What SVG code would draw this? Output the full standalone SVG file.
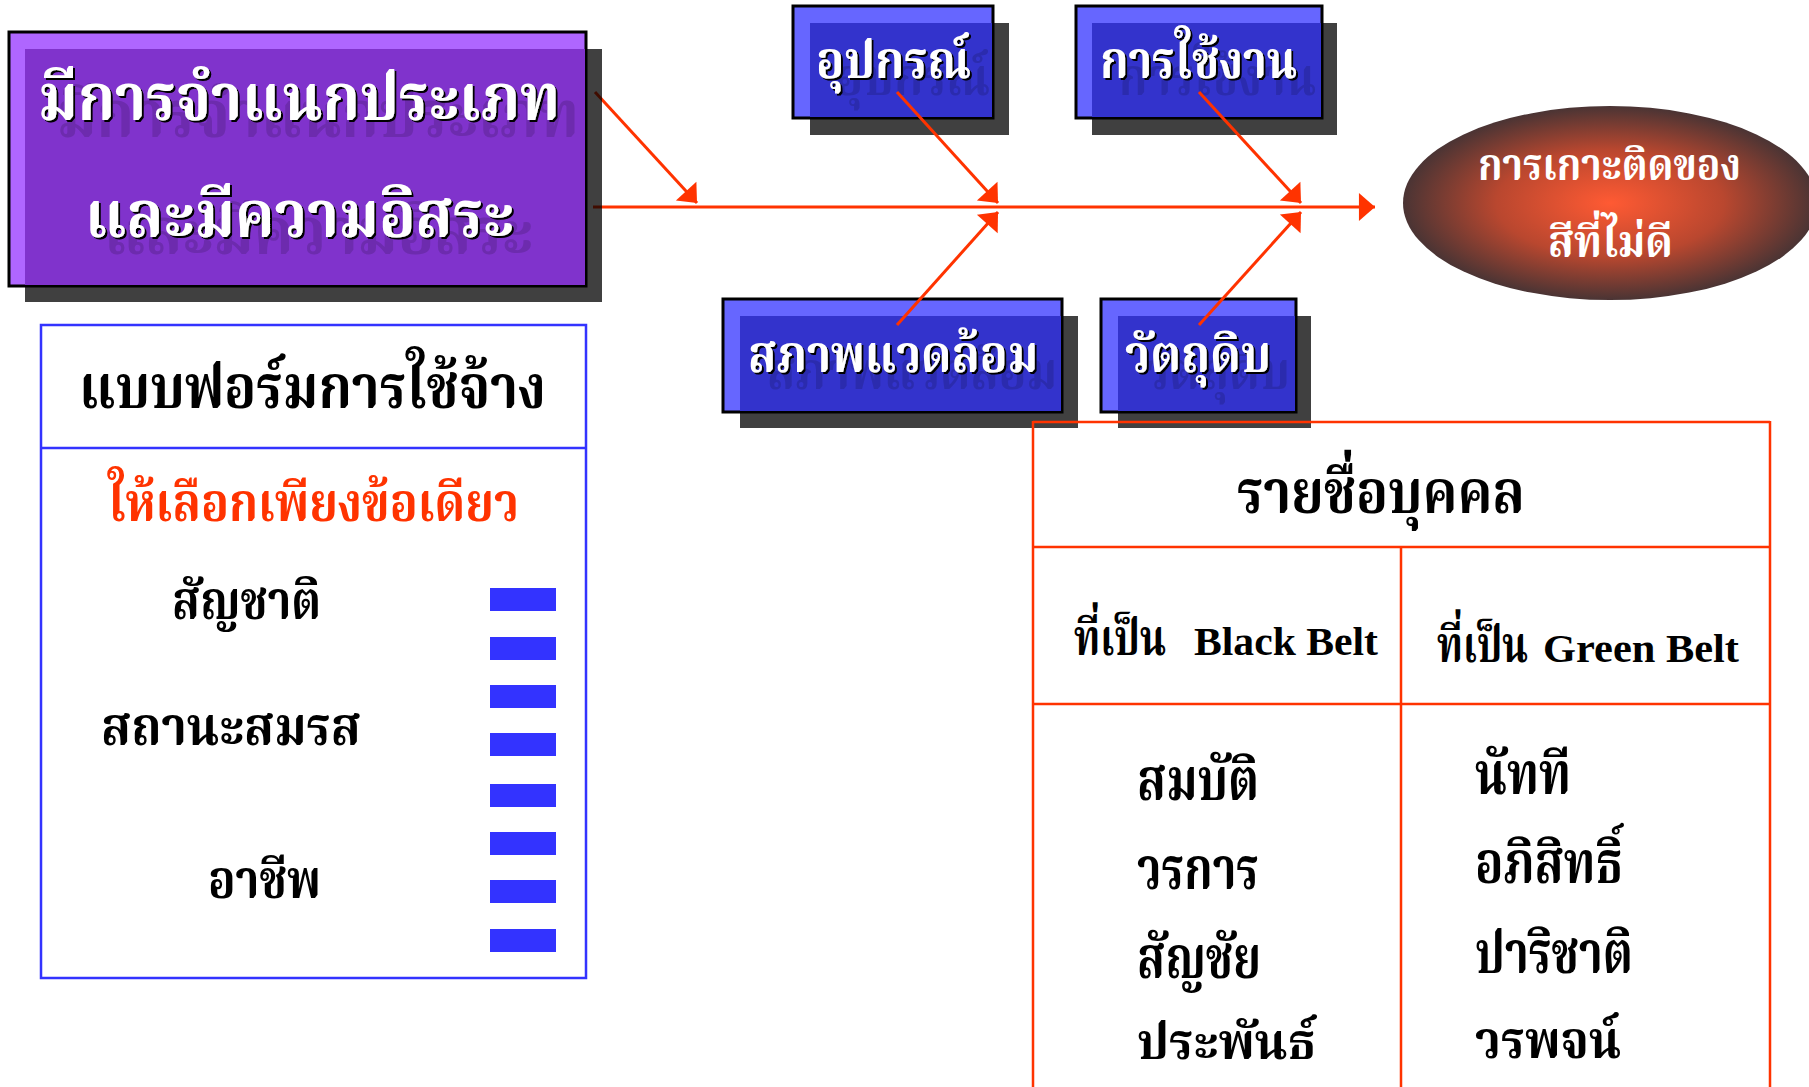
<svg xmlns="http://www.w3.org/2000/svg" width="1809" height="1087" viewBox="0 0 1809 1087">
<defs>
<style>
.th{font-family:'Angsana New','Noto Serif Thai','Noto Sans Thai','Norasi','Loma','Garuda','Noto Sans',sans-serif}
.wt{fill:#fff;font-weight:bold;filter:url(#ts)}
.bk{fill:#000;font-weight:bold}
.conn{stroke:#FF3300;stroke-width:3;fill:none}
.shadow{fill:#000;fill-opacity:0.75}
.pbox{fill:#AF66FF;stroke:#000;stroke-width:3}
.pin{fill:#8033CC}
.bbox{fill:#6666FF;stroke:#000;stroke-width:3}
.bin{fill:#3333CC}
.bar{fill:#3333FF}
.tbl{stroke:#FF3300;stroke-width:2.5;fill:none}
.lat{font-family:'Liberation Serif','Times New Roman',serif;font-weight:bold}
</style>
<filter id="ts" x="-10%" y="-30%" width="130%" height="180%">
<feOffset in="SourceAlpha" dx="19" dy="17" result="g0"/>
<feFlood flood-color="#000" flood-opacity="0.15"/>
<feComposite in2="g0" operator="in" result="ghost"/>
<feOffset in="SourceAlpha" dx="2" dy="2" result="s0"/>
<feFlood flood-color="#000"/>
<feComposite in2="s0" operator="in" result="sh"/>
<feMerge><feMergeNode in="ghost"/><feMergeNode in="sh"/><feMergeNode in="SourceGraphic"/></feMerge>
</filter>
<radialGradient id="eg" cx="0.5" cy="0.5" r="0.5">
<stop offset="0" stop-color="#FF5A33"/>
<stop offset="0.55" stop-color="#B9472F"/>
<stop offset="1" stop-color="#4A3434"/>
</radialGradient>
<marker id="ah" markerUnits="userSpaceOnUse" markerWidth="20" markerHeight="30" viewBox="-16 -14 18 28" refX="0" refY="0" orient="auto">
<path d="M0,0 L-15,-13 L-15,13 Z" fill="#FF3300"/>
</marker>
</defs>

<g id="node-equipment">
<rect class="shadow" x="810" y="23" width="199" height="112"/>
<rect class="bbox" x="793" y="6" width="200" height="112"/>
<rect class="bin" x="810" y="23" width="182" height="94"/>
<text class="th wt" x="816" y="78" font-size="52" textLength="155" lengthAdjust="spacingAndGlyphs">อุปกรณ์</text>
</g>
<g id="node-usage">
<rect class="shadow" x="1092" y="23" width="245" height="112"/>
<rect class="bbox" x="1076" y="6" width="246" height="112"/>
<rect class="bin" x="1092" y="23" width="229" height="94"/>
<text class="th wt" x="1100" y="78" font-size="52" textLength="197" lengthAdjust="spacingAndGlyphs">การใช้งาน</text>
</g>
<g id="node-environment">
<rect class="shadow" x="740" y="316" width="338" height="112"/>
<rect class="bbox" x="723" y="299" width="339" height="113"/>
<rect class="bin" x="740" y="316" width="321" height="95"/>
<text class="th wt" x="748" y="372" font-size="52" textLength="290" lengthAdjust="spacingAndGlyphs">สภาพแวดล้อม</text>
</g>
<g id="node-material">
<rect class="shadow" x="1118" y="316" width="193" height="112"/>
<rect class="bbox" x="1101" y="299" width="195" height="113"/>
<rect class="bin" x="1118" y="316" width="177" height="95"/>
<text class="th wt" x="1125" y="372" font-size="52" textLength="146" lengthAdjust="spacingAndGlyphs">วัตถุดิบ</text>
</g>

<g id="connectors">
<line class="conn" x1="593" y1="207" x2="1375" y2="207" marker-end="url(#ah)"/>
<line class="conn" x1="595" y1="92" x2="697" y2="203" marker-end="url(#ah)"/>
<line class="conn" x1="897" y1="92" x2="998" y2="203" marker-end="url(#ah)"/>
<line class="conn" x1="897" y1="325" x2="998" y2="212" marker-end="url(#ah)"/>
<line class="conn" x1="1199" y1="92" x2="1301" y2="203" marker-end="url(#ah)"/>
<line class="conn" x1="1199" y1="325" x2="1301" y2="212" marker-end="url(#ah)"/>
</g>

<g id="node-classification">
<rect class="shadow" x="25" y="49" width="577" height="253"/>
<rect class="pbox" x="9" y="32" width="577" height="254"/>
<rect class="pin" x="25" y="49" width="560" height="236"/>
<text class="th wt" x="38" y="120" font-size="66" textLength="522" lengthAdjust="spacingAndGlyphs">มีการจำแนกประเภท</text>
<text class="th wt" x="85" y="237" font-size="66" textLength="429" lengthAdjust="spacingAndGlyphs">และมีความอิสระ</text>
</g>

<g id="node-effect">
<ellipse cx="1610" cy="203" rx="207" ry="97" fill="url(#eg)"/>
<text class="th" x="1478" y="180" font-size="44" fill="#fff" font-weight="bold" textLength="263" lengthAdjust="spacingAndGlyphs">การเกาะติดของ</text>
<text class="th" x="1548" y="257" font-size="44" fill="#fff" font-weight="bold" textLength="125" lengthAdjust="spacingAndGlyphs">สีที่ไม่ดี</text>
</g>

<g id="node-form">
<rect x="41" y="325" width="545" height="653" fill="none" stroke="#3333FF" stroke-width="2.5"/>
<line x1="41" y1="448" x2="586" y2="448" stroke="#3333FF" stroke-width="2.5"/>
<text class="th bk" x="79" y="408" font-size="60" textLength="467" lengthAdjust="spacingAndGlyphs">แบบฟอร์มการใช้จ้าง</text>
<text class="th" x="108" y="521" font-size="54" fill="#FF3300" font-weight="bold" textLength="411" lengthAdjust="spacingAndGlyphs">ให้เลือกเพียงข้อเดียว</text>
<text class="th bk" x="172" y="619" font-size="54" textLength="149" lengthAdjust="spacingAndGlyphs">สัญชาติ</text>
<text class="th bk" x="101" y="745" font-size="54" textLength="260" lengthAdjust="spacingAndGlyphs">สถานะสมรส</text>
<text class="th bk" x="208" y="898" font-size="54" textLength="113" lengthAdjust="spacingAndGlyphs">อาชีพ</text>
<rect class="bar" x="490" y="588" width="66" height="23"/>
<rect class="bar" x="490" y="637" width="66" height="23"/>
<rect class="bar" x="490" y="685" width="66" height="23"/>
<rect class="bar" x="490" y="733" width="66" height="23"/>
<rect class="bar" x="490" y="784" width="66" height="23"/>
<rect class="bar" x="490" y="832" width="66" height="23"/>
<rect class="bar" x="490" y="880" width="66" height="23"/>
<rect class="bar" x="490" y="929" width="66" height="23"/>
</g>

<g id="node-people">
<line class="tbl" x1="1033" y1="422" x2="1770" y2="422"/>
<line class="tbl" x1="1033" y1="421" x2="1033" y2="1090"/>
<line class="tbl" x1="1770" y1="421" x2="1770" y2="1090"/>
<line class="tbl" x1="1033" y1="547" x2="1770" y2="547"/>
<line class="tbl" x1="1033" y1="704" x2="1770" y2="704"/>
<line class="tbl" x1="1401" y1="547" x2="1401" y2="1090"/>
<text class="th bk" x="1237" y="513" font-size="60" textLength="288" lengthAdjust="spacingAndGlyphs">รายชื่อบุคคล</text>
<text class="bk" y="655"><tspan class="th" x="1074" font-size="50" textLength="92" lengthAdjust="spacingAndGlyphs">ที่เป็น</tspan><tspan class="lat" x="1194" font-size="41" textLength="184" lengthAdjust="spacingAndGlyphs">Black Belt</tspan></text>
<text class="bk" y="662"><tspan class="th" x="1437" font-size="50" textLength="91" lengthAdjust="spacingAndGlyphs">ที่เป็น</tspan><tspan class="lat" x="1543" font-size="41" textLength="196" lengthAdjust="spacingAndGlyphs">Green Belt</tspan></text>
<text class="th bk" x="1137" y="800" font-size="58" textLength="122" lengthAdjust="spacingAndGlyphs">สมบัติ</text>
<text class="th bk" x="1137" y="889" font-size="58" textLength="122" lengthAdjust="spacingAndGlyphs">วรการ</text>
<text class="th bk" x="1137" y="978" font-size="58" textLength="124" lengthAdjust="spacingAndGlyphs">สัญชัย</text>
<text class="th bk" x="1137" y="1059" font-size="50" textLength="179" lengthAdjust="spacingAndGlyphs">ประพันธ์</text>
<text class="th bk" x="1475" y="794" font-size="58" textLength="96" lengthAdjust="spacingAndGlyphs">นัทที</text>
<text class="th bk" x="1475" y="883" font-size="58" textLength="148" lengthAdjust="spacingAndGlyphs">อภิสิทธิ์</text>
<text class="th bk" x="1475" y="973" font-size="58" textLength="158" lengthAdjust="spacingAndGlyphs">ปาริชาติ</text>
<text class="th bk" x="1475" y="1058" font-size="52" textLength="146" lengthAdjust="spacingAndGlyphs">วรพจน์</text>
</g>
</svg>
